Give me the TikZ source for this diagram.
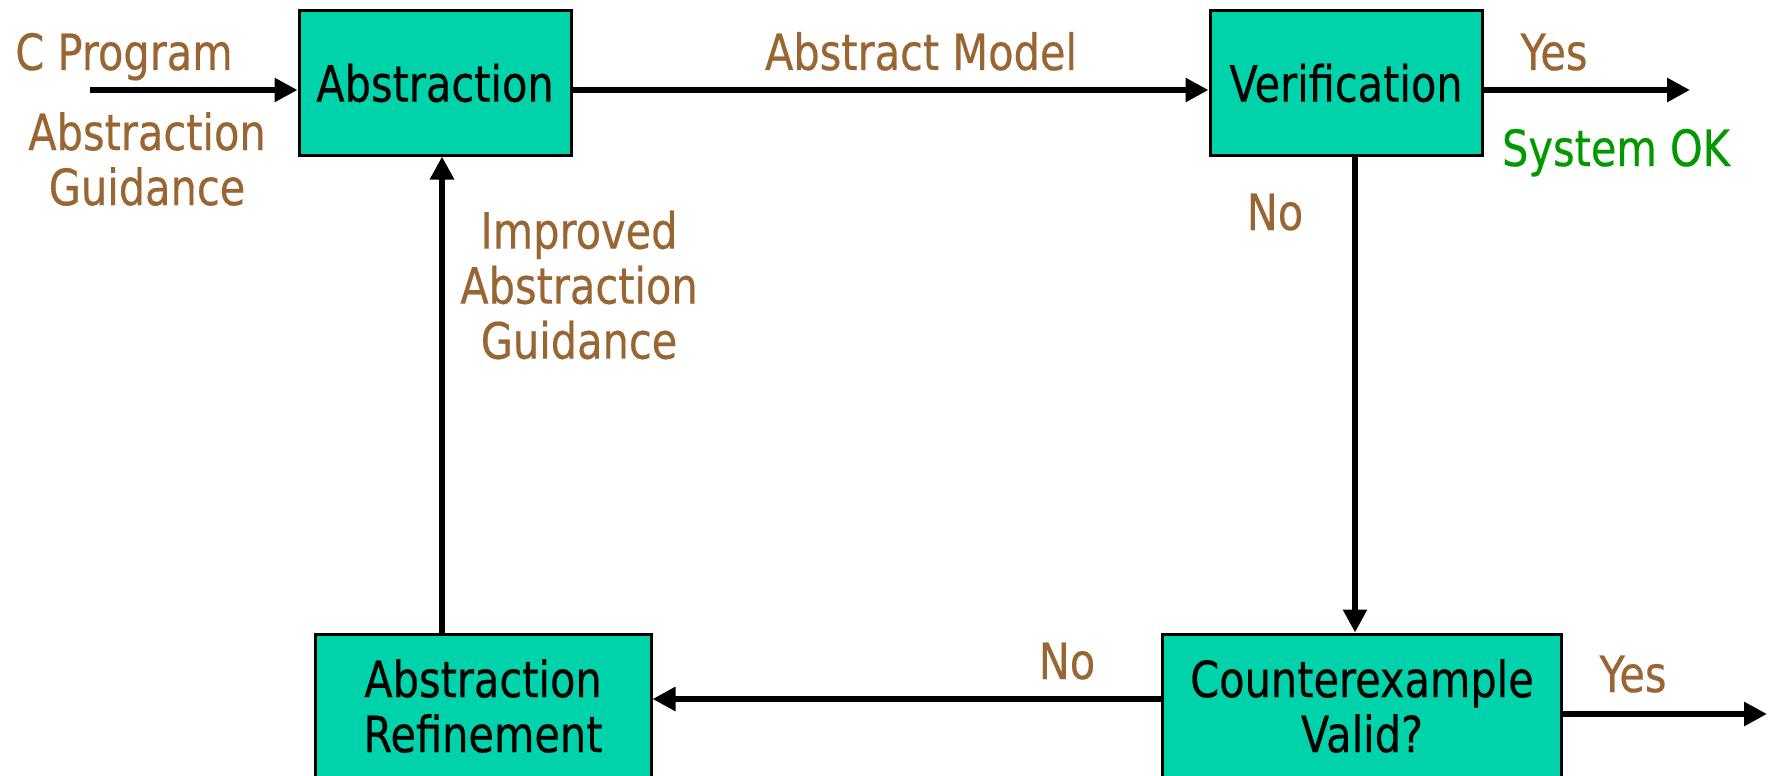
\documentclass[tikz,border=0pt]{standalone}
\usepackage{fontspec}
\setmainfont{DejaVu Sans}[FakeStretch=0.83,FakeBold=0.4]
\usetikzlibrary{arrows.meta}

\definecolor{boxteal}{RGB}{0,211,170}
\definecolor{lblbrown}{RGB}{153,102,51}
\definecolor{okgreen}{RGB}{0,153,0}

\tikzset{
  stage/.style={draw=black,line width=3pt,fill=boxteal,minimum height=144pt,align=center,inner sep=0pt},
  flow/.style={line width=6.5pt,-{Triangle[length=23pt,width=23pt]}},
  lbl/.style={text=lblbrown,inner sep=0pt,align=center}
}

\begin{document}
\begin{tikzpicture}[x=1pt,y=-1pt,font=\fontsize{50}{55}\selectfont]
      \clip (0,0) rectangle (1770,776);
      \fill[white] (0,0) rectangle (1770,776);

      \node[stage,minimum width=272pt] (abs) at (435,83) {Abstraction};
      \node[stage,minimum width=272pt] (ver) at (1346,83) {Verification};
      \node[stage,minimum width=336pt] (ref) at (483,706) {Abstraction\\Refinement};
      \node[stage,minimum width=399pt] (cex) at (1362,706) {Counterexample\\Valid?};

      \coordinate (cin) at (90,90);
      \coordinate (okout) at (1690,90);
      \coordinate (cexout) at (1767,714);
      \coordinate (upx) at ([xshift=7pt]abs.south);
      \coordinate (downx) at ([xshift=9pt]ver.south);

      \draw[flow] (cin) -- ([yshift=-7pt]abs.west);
      \draw[flow] ([yshift=-7pt]abs.east) -- ([yshift=-7pt]ver.west);
      \draw[flow] ([yshift=-7pt]ver.east) -- (okout);
      \draw[flow] (downx) -- (downx |- cex.north);
      \draw[flow] ([yshift=7pt]cex.west) -- ([yshift=7pt]cex.west -| ref.east);
      \draw[flow] ([yshift=-8pt]cex.east) -- (cexout);
      \draw[flow] (upx |- ref.north) -- (upx);

      \node[lbl,anchor=base] (prog) at (124,70) {C Program};
      \node[lbl] (guide) at (147,159) {Abstraction\\Guidance};
      \node[lbl,anchor=base] (model) at (921,70) {Abstract Model};
      \node[lbl,anchor=base] (yes1) at (1554,70) {Yes};
      \node[lbl,anchor=base,text=okgreen] (ok) at (1616,166) {System OK};
      \node[lbl,anchor=base] (no1) at (1275,230) {No};
      \node[lbl] (better) at (579,285) {Improved\\Abstraction\\Guidance};
      \node[lbl,anchor=base] (no2) at (1067,679) {No};
      \node[lbl,anchor=base] (yes2) at (1633,692) {Yes};
    \end{tikzpicture}
\end{document}
